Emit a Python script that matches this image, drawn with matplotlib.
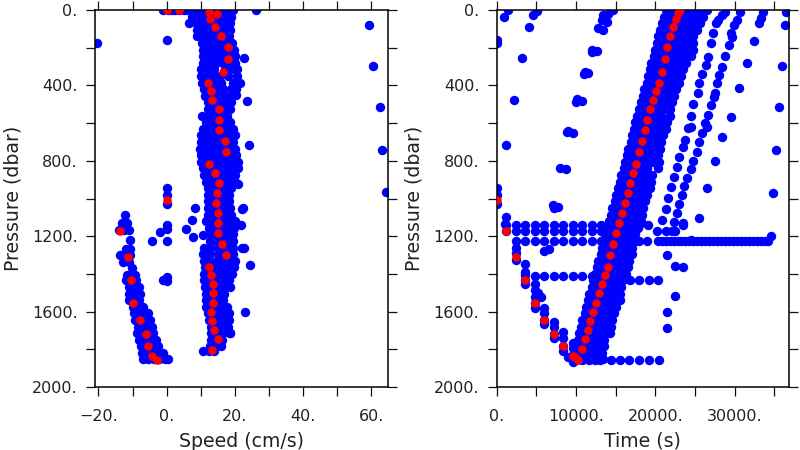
import matplotlib
matplotlib.use("Agg")
import matplotlib.pyplot as plt

# speed panel, main band: pressure level -> speeds read at that level
speed_band_p = [0, 35, 70, 105, 140, 175, 210, 245, 280, 315, 350, 385, 420, 455, 490, 525, 560, 595,
                630, 665, 700, 735, 770, 805, 840, 875, 910, 945, 980, 1015, 1050, 1085, 1120, 1155,
                1190, 1225, 1260, 1295, 1330, 1365, 1400, 1435, 1470, 1505, 1540, 1575, 1610, 1645,
                1680, 1715, 1750, 1785, 1810]
speed_band_v = [
    [8, 10, 12, 14, 16, 18, 19.5], [7.5, 9.5, 11.5, 13.5, 15.5, 17.5, 19], [6.5, 8.5, 10.5, 12.5, 14.5, 16.5, 18.5],
    [9, 11, 13, 15, 17, 18.5], [9, 10.8, 12.6, 14.4, 16.2, 18.2], [10.5, 12.3, 14.1, 15.9, 17.7, 19.3],
    [10.8, 12.5, 14, 15.5, 17.5, 19.7], [10.6, 12.4, 14.2, 16, 18, 20], [10.6, 12.4, 14.6, 16.6, 18.4, 20],
    [10.2, 12, 13.8, 17, 19, 20.5], [10.2, 12, 13.8, 15.6, 18, 20.6], [10.4, 12.2, 14, 15.8, 19.4, 21.4],
    [11, 12.8, 14.6, 16.4, 19, 20.4], [11.2, 13, 14.8, 16.6, 18.4], [12, 13.8, 15.6, 17.4, 18.8],
    [12, 13.8, 15.6, 17.4, 18.6], [10.4, 12.4, 14.2, 16, 17.8], [11.4, 13.2, 15, 16.8, 18.6],
    [10.8, 12.6, 14.4, 16.2, 18, 19.6], [10, 11.8, 13.6, 15.4, 17.2, 19, 20], [10.2, 12, 13.8, 15.6, 17.4, 19.4],
    [9.8, 11.6, 13.4, 15.2, 17, 18.8, 20], [10, 11.8, 13.6, 15.4, 17.2, 19, 20.4], [10.2, 12, 13.8, 15.6, 17.4, 19.2, 21],
    [10.8, 12.6, 14.4, 16.2, 18, 19.8, 21], [11, 12.8, 14.6, 16.4, 18.2, 20], [11.6, 13.4, 15.2, 17, 18.8, 20],
    [12, 13.8, 15.6, 17.4, 19], [12.2, 14, 15.8, 17.6, 18.4], [12, 13.8, 15.6, 17.4, 18.2],
    [12.2, 14, 15.8, 17.6, 18.6], [12, 13.8, 15.6, 17.4, 18.8], [11.5, 13.5, 15.3, 17.1, 19, 20],
    [12.5, 14.3, 16.1, 17.9, 19.7], [13, 14.8, 16.6, 18.4, 19.5], [12.6, 14.4, 16.2, 18, 19.6],
    [11, 12.6, 15, 16.8, 18.6, 19.6], [10.8, 12.6, 15.2, 17, 18.8, 19.6], [11, 12.8, 14.8, 16.6, 18.4, 20],
    [11.2, 13, 15, 16.8, 18.6, 19.8], [11, 12.8, 14.6, 16.4, 18.2, 19.2], [11, 12.8, 14.6, 16.4, 18.2],
    [11.2, 13, 14.8, 16.6, 18.6], [11.4, 13.2, 15, 16.8], [11.4, 13.2, 15, 16.6],
    [11.6, 13.4, 15.2, 17, 17.8], [12, 13.8, 15.6, 17.4, 18.4], [12.4, 14.2, 16, 17.8, 18.2],
    [13, 14.8, 16.6, 18], [13, 14.8, 16.6, 18.6], [13, 14.6, 16.2], [12.6, 14.2, 15.8], [10.6, 12.4, 14],
]

# speed panel, lower left branch
speed_low_p = [1085, 1130, 1165, 1220, 1270, 1300, 1335, 1370, 1405, 1435, 1470, 1505, 1540, 1575, 1610, 1645,
               1680, 1715, 1750, 1785, 1820, 1850]
speed_low_v = [
    [-12.2], [-13, -11.5], [-14, -12.4, -11], [-10.8], [-12, -10.6], [-13.8, -12.2, -10.8], [-12.8, -11],
    [-10.2], [-11.6, -10, -9.4], [-12, -10.4, -9], [-11, -9.4, -8], [-11, -9.4, -7.8], [-11, -9.4, -8],
    [-10, -8.4, -6.8], [-9.6, -8, -6.4, -5.4], [-9.4, -7.8, -6.2, -4.8], [-8.4, -6.8, -5.2, -4.4],
    [-8.6, -7, -5.4, -4], [-8, -6.4, -4.8, -3.2], [-7.6, -6, -4.4, -2.6], [-7.2, -5.6, -4, -2.4, -1],
    [-7, -5.4, -3.8, -2.2, -0.6, 0.4],
]

# scattered speed points
speed_other_v = [-20.5, 0, 26.2, 59.4, 60.6, 62.5, 63.2, 64.3, 22.6, 23.7, 24.2, 20.4, 20.8, 22.4, 22, 8.4, 7.4,
                 0, 0, 0, 0, 0, -1.8, 0, -4.4, 5.7, 7.8, 10.6, 22, 22.6, 24.4, 23, 0, -1, 0, 21.7, 18.6,
                 -1, 0.5, 1.5, 2.5, 3.7, 5, 6, 7, 8, 9]
speed_other_p = [175, 159, 0, 81, 295, 515, 741, 967, 255, 481, 718, 449, 925, 1050, 1055, 1050, 1114,
                 946, 981, 1029, 1140, 1162, 1180, 1228, 1228, 1162, 1202, 1193, 1265, 1260, 1355, 1600, 1415, 1432, 1437, 1141, 1715,
                 0, 0, 0, 0, 0, 0, 0, 0, 0, 0]

# red points, speed panel
red_speed = [0, 3.7, 12.4, 14.8, 12.6, 14.2, 15.9, 18.1, 18.0, 16.6, 12.0, 13.0, 13.3, 15.5, 15.4, 15.4, 17.1, 17.5,
             12.4, 14.3, 15.4, 14.8, 14.4, 15.2, 15.0, 0, -13.7, -11.2, -10.3, -9.9, -7.7, -6.1, -5.6, -4.2, -2.8,
             15.2, 16.1, 17.5, 12.4, 13.1, 13.5, 13.6, 13.5, 13.1, 13.4, 14.0, 15.1, 13.4]
red_speed_p = [0, 0, 9, 19, 46, 88, 140, 198, 262, 327, 387, 431, 477, 525, 582, 638, 693, 755,
               819, 863, 916, 971, 1024, 1075, 1128, 1008, 1172, 1310, 1432, 1552, 1644, 1717, 1784, 1835, 1855,
               1185, 1241, 1300, 1362, 1408, 1453, 1503, 1552, 1600, 1648, 1696, 1747, 1802]

# time panel, main band: pressure level -> times read at that level
time_band_p = [0, 35, 70, 105, 140, 175, 210, 245, 280, 315, 350, 385, 420, 455, 490, 525, 560, 595, 630, 665,
               700, 735, 770, 805, 840, 875, 910, 945, 980, 1015, 1050, 1085, 1120, 1155, 1190, 1225, 1260, 1295,
               1330, 1365, 1400, 1435, 1470, 1505, 1540, 1575, 1610, 1645, 1680, 1715, 1750, 1785, 1820, 1850]
time_band_t = [
    [21300, 22050, 22800, 23550, 24300, 25050, 25800, 26500], [21100, 21500, 22250, 23000, 23750, 24500, 25250, 26000],
    [20900, 21650, 22400, 23150, 23900, 24650, 25600], [20600, 21000, 21750, 22500, 23250, 24000, 24750, 25200],
    [20400, 21150, 21900, 22650, 23400, 24150, 24800], [20200, 20600, 21350, 22100, 22850, 23600, 24350, 24800],
    [20000, 20750, 21500, 22250, 23000, 23750, 24700], [19800, 20200, 20950, 21700, 22450, 23200, 23950, 24500],
    [19500, 20250, 21000, 21750, 22500, 23250, 23900], [19300, 19700, 20450, 21200, 21950, 22700, 23500],
    [19100, 19850, 20600, 21350, 22100, 22850, 23200], [18900, 19300, 20050, 20800, 21550, 22300, 23000],
    [18600, 19350, 20100, 20850, 21600, 22600], [18400, 18800, 19550, 20300, 21050, 21800, 22300],
    [18200, 18950, 19700, 20450, 21200, 22100], [18000, 18400, 19150, 19900, 20650, 21400, 21900],
    [17700, 18450, 19200, 19950, 20700, 21800], [17500, 17900, 18650, 19400, 20150, 20900, 21500],
    [17300, 18050, 18800, 19550, 20300, 21400], [17100, 17500, 18250, 19000, 19750, 20500, 21000],
    [16900, 17650, 18400, 19150, 19900, 20700], [16600, 17000, 17750, 18500, 19250, 20000, 20600],
    [16400, 17150, 17900, 18650, 19400, 20400], [16200, 16600, 17350, 18100, 18850, 19600, 20500],
    [16000, 16750, 17500, 18250, 19000, 20300], [15700, 16100, 16850, 17600, 18350, 19100, 19600],
    [15500, 16250, 17000, 17750, 18500, 19500], [15300, 15700, 16450, 17200, 17950, 18700, 19300],
    [15100, 15850, 16600, 17350, 18100, 19000], [14900, 15300, 16050, 16800, 17550, 18300, 18700],
    [14600, 15350, 16100, 16850, 17600, 18400], [14400, 14800, 15550, 16300, 17050, 17800, 18300],
    [14200, 14950, 15700, 16450, 17200, 18200], [14000, 14400, 15150, 15900, 16650, 17400, 17800],
    [13700, 14450, 15200, 15950, 16700, 17500], [13500, 13900, 14650, 15400, 16150, 16900, 17500],
    [13300, 14050, 14800, 15550, 16300, 17100], [13100, 13500, 14250, 15000, 15750, 16500, 17000],
    [12800, 13550, 14300, 15050, 15800, 16700], [12600, 13000, 13750, 14500, 15250, 16000, 16600],
    [12400, 13150, 13900, 14650, 15400, 16300], [12200, 12600, 13350, 14100, 14850, 15600, 15900],
    [12000, 12750, 13500, 14250, 15000, 15700], [11700, 12100, 12850, 13600, 14350, 15100, 15600],
    [11500, 12250, 13000, 13750, 14500, 15500], [11300, 11700, 12450, 13200, 13950, 14700, 15000],
    [11100, 11850, 12600, 13350, 14100, 14800], [10800, 11200, 11950, 12700, 13450, 14200, 14500],
    [10600, 11350, 12100, 12850, 13600, 14400], [10400, 10800, 11550, 12300, 13050, 13800, 14300],
    [10200, 10950, 11700, 12450, 13200, 13500], [10000, 10400, 11150, 11900, 12650, 13500],
    [9800, 10550, 11300, 12050, 12800, 13300], [9900, 10300, 11050, 11800, 12550, 13400],
]

# diagonal tracks on the time panel
track_a_t = [28790, 28370, 27950, 27660, 27320, 26980, 26650, 26390, 25890, 25510, 25340, 24800, 24500, 24080, 24460,
             23750, 23450, 23030, 22700, 22360, 21940, 21560, 21310, 20850]
track_a_p = [9, 27, 53, 71, 124, 177, 248, 292, 340, 389, 442, 500, 564, 628, 619, 690, 729, 778, 835, 884, 941, 999, 1057, 1114]
track_b_t = [30680, 30260, 29930, 29510, 29630, 29340, 28790, 28450, 28080, 27740, 27530, 27400, 26980, 26600, 26270,
             26560, 25890, 25510, 25220, 24800, 24500, 24040, 23660, 23410, 23030, 22700, 22360, 23540]
track_b_p = [9, 53, 80, 124, 141, 186, 242, 301, 345, 389, 442, 460, 504, 557, 601, 622, 654, 698, 752, 799, 843, 893,
             934, 981, 1029, 1079, 1123, 1132]
track_c_t = [33620, 33290, 33120, 32490, 31520, 30510, 29510, 28450, 27530, 26480, 25510]
track_c_p = [9, 44, 71, 163, 279, 412, 569, 672, 803, 946, 1105]
track_d_t = [36480, 36360, 35980, 35600, 35260, 34880]
track_d_p = [9, 80, 295, 515, 741, 969]
track_e_t = [1470, 925, 5040, 4540, 4120, 3150, 2140, 1135]
track_e_p = [0, 39, 5, 27, 88, 256, 479, 718]
track_f_t = [14710, 14080, 13450, 13240, 13870, 12820, 13450, 12610, 12060, 11980, 11140, 11560, 11010, 10090, 10720,
             10000, 9040, 9670, 8830, 7990, 8700, 7060, 7690, 7230]
track_f_p = [0, 21, 27, 53, 62, 97, 106, 216, 212, 221, 327, 336, 340, 474, 481, 486, 640, 654, 645, 836, 843, 1034, 1047, 1052]

# stepped descent on the left of the time panel
step_t = [80, 80, 100, 100, 100, 1180, 1050, 2400, 2400, 2400, 3610, 3610, 3610, 3610, 3610, 4790, 4790, 4790, 4790, 4790,
          5250, 5630, 6010, 6010, 6010, 6010, 7190, 7190, 7190, 7190, 8410, 8410, 8410, 8410, 9580, 9580, 9580, 9040, 9670,
          6640, 5970, 21440, 22490, 23540, 22490, 21520, 21520]
step_p = [159, 177, 946, 981, 1029, 1096, 1135, 1264, 1291, 1326, 1349, 1388, 1406, 1432, 1455, 1455, 1485, 1521, 1552, 1582,
          1503, 1521, 1582, 1609, 1644, 1668, 1654, 1680, 1717, 1742, 1710, 1742, 1784, 1809, 1768, 1795, 1835, 1839, 1866,
          1268, 1278, 1300, 1356, 1362, 1517, 1600, 1685]

# horizontal rows on the time panel
row_1140_t = [1200, 2400, 3600, 4800, 6000, 7200, 8400, 9600, 10800, 12000, 13200, 17900, 19100, 23540]
row_1170_t = [1200, 2400, 3600, 4800, 6000, 7200, 8400, 9600, 10800, 12000, 13200, 20200, 21400, 22100, 22500]
row_1225_t = [2400, 3600, 4800, 6000, 7200, 8400, 9600, 10800, 12000, 13200, 18000, 19000, 20300, 20800, 21300, 21800,
              22300, 22800, 23300, 23800, 24300, 24800, 25300, 25800, 26300, 26800, 27300, 27800, 28300, 28800, 29300,
              29800, 30300, 30800, 31300, 31800, 32300, 32800, 33300, 33800, 34250]
row_1411_t = [4790, 6010, 7190, 8410, 9580, 10760, 11980]
row_1435_t = [15550, 16810, 17950, 19170, 20380]
row_1857_t = [10000, 10800, 11600, 12400, 13030, 14370, 15550, 16730, 17950, 19170, 20430]
extra_t = [34550, 24500]
extra_p = [1199, 1220]

# red points, time panel
red_time = [23100, 22900, 22600, 22280, 21900, 21520, 21180, 20800, 20470, 20090, 19710, 19380, 19000, 18660, 18280, 17900,
            17570, 17230, 16850, 16520, 16140, 15760, 15420, 0, 1220, 2400, 3610, 4790, 6010, 7190, 8410, 9580, 9920, 10300,
            10720, 11100, 11470, 11810, 12190, 12520, 12900, 13240, 13620, 14000, 14330, 14710, 15050]
red_time_p = [0, 14, 46, 88, 140, 198, 262, 327, 387, 431, 477, 525, 582, 638, 693, 755, 819, 863, 916, 971, 1024, 1075, 1128,
              1008, 1172, 1310, 1432, 1552, 1644, 1717, 1784, 1835, 1843, 1855,
              1800, 1747, 1696, 1648, 1600, 1552, 1503, 1453, 1408, 1362, 1300, 1241, 1185]

pressure_labels = ["0.", "400.", "800.", "1200.", "1600.", "2000."]
pressure_ticks = [0, 400, 800, 1200, 1600, 2000]
speed_ticks = [-20, 0, 20, 40, 60]
speed_labels = ["\u221220.", "0.", "20.", "40.", "60."]
time_ticks = [0, 10000, 20000, 30000]
time_labels = ["0.", "10000.", "20000.", "30000."]

W, H = 800, 450
TEXT = "#222222"
BLUE_SIZE = 46
RED_SIZE = 38


def flatten(levels, rows):
    xs = []
    ys = []
    for p, row in zip(levels, rows):
        for v in row:
            xs.append(v)
            ys.append(p)
    return xs, ys


def style_axis(ax, xlim, major_x, labels_x, minor_x, xlabel):
    ax.set_xlim(*xlim)
    ax.set_ylim(2000, 0)
    ax.set_xticks(major_x)
    ax.set_xticklabels(labels_x, fontsize=11.5, color=TEXT)
    ax.set_xticks(minor_x, minor=True)
    ax.set_yticks(pressure_ticks)
    ax.set_yticklabels(pressure_labels, fontsize=11.5, color=TEXT)
    ax.set_yticks(range(200, 2000, 400), minor=True)
    ax.tick_params(which="both", direction="out", top=True, right=True, length=6.5, width=0.9, color="#111111")
    ax.tick_params(axis="x", which="major", pad=9)
    ax.tick_params(axis="y", which="major", pad=6)
    ax.set_xlabel(xlabel, fontsize=13.6, color=TEXT, labelpad=6)
    ax.set_ylabel("Pressure (dbar)", fontsize=13.6, color=TEXT, labelpad=7)
    for s in ax.spines.values():
        s.set_linewidth(1.1)


def main():
    fig = plt.figure(figsize=(W / 100, H / 100), dpi=100)
    ax1 = fig.add_axes([95 / W, 1 - 387 / H, 293 / W, 377 / H])
    ax2 = fig.add_axes([496.7 / W, 1 - 387 / H, 292.3 / W, 377 / H])

    for levels, rows in [(speed_band_p, speed_band_v), (speed_low_p, speed_low_v)]:
        x, y = flatten(levels, rows)
        ax1.scatter(x, y, s=BLUE_SIZE, c="#0000ff", linewidths=0)
    ax1.scatter(speed_other_v, speed_other_p, s=BLUE_SIZE, c="#0000ff", linewidths=0)
    ax1.scatter(red_speed, red_speed_p, s=RED_SIZE, c="#ff0000", linewidths=0, zorder=3)
    style_axis(ax1, (-21, 64.9), speed_ticks, speed_labels, [-10, 10, 30, 50], "Speed (cm/s)")

    x, y = flatten(time_band_p, time_band_t)
    ax2.scatter(x, y, s=BLUE_SIZE, c="#0000ff", linewidths=0)
    tracks = [(track_a_t, track_a_p), (track_b_t, track_b_p), (track_c_t, track_c_p), (track_d_t, track_d_p),
              (track_e_t, track_e_p), (track_f_t, track_f_p), (step_t, step_p), (extra_t, extra_p)]
    for t, p in tracks:
        ax2.scatter(t, p, s=BLUE_SIZE, c="#0000ff", linewidths=0)
    rows = [(row_1140_t, 1140), (row_1170_t, 1170), (row_1225_t, 1225), (row_1411_t, 1411), (row_1435_t, 1435), (row_1857_t, 1857)]
    for t, p in rows:
        ax2.scatter(t, [p] * len(t), s=BLUE_SIZE, c="#0000ff", linewidths=0)
    ax2.scatter(red_time, red_time_p, s=RED_SIZE, c="#ff0000", linewidths=0, zorder=3)
    style_axis(ax2, (0, 36860), time_ticks, time_labels, [5000, 15000, 25000, 35000], "Time (s)")

    fig.savefig("out.png", dpi=100)


if __name__ == "__main__":
    main()
